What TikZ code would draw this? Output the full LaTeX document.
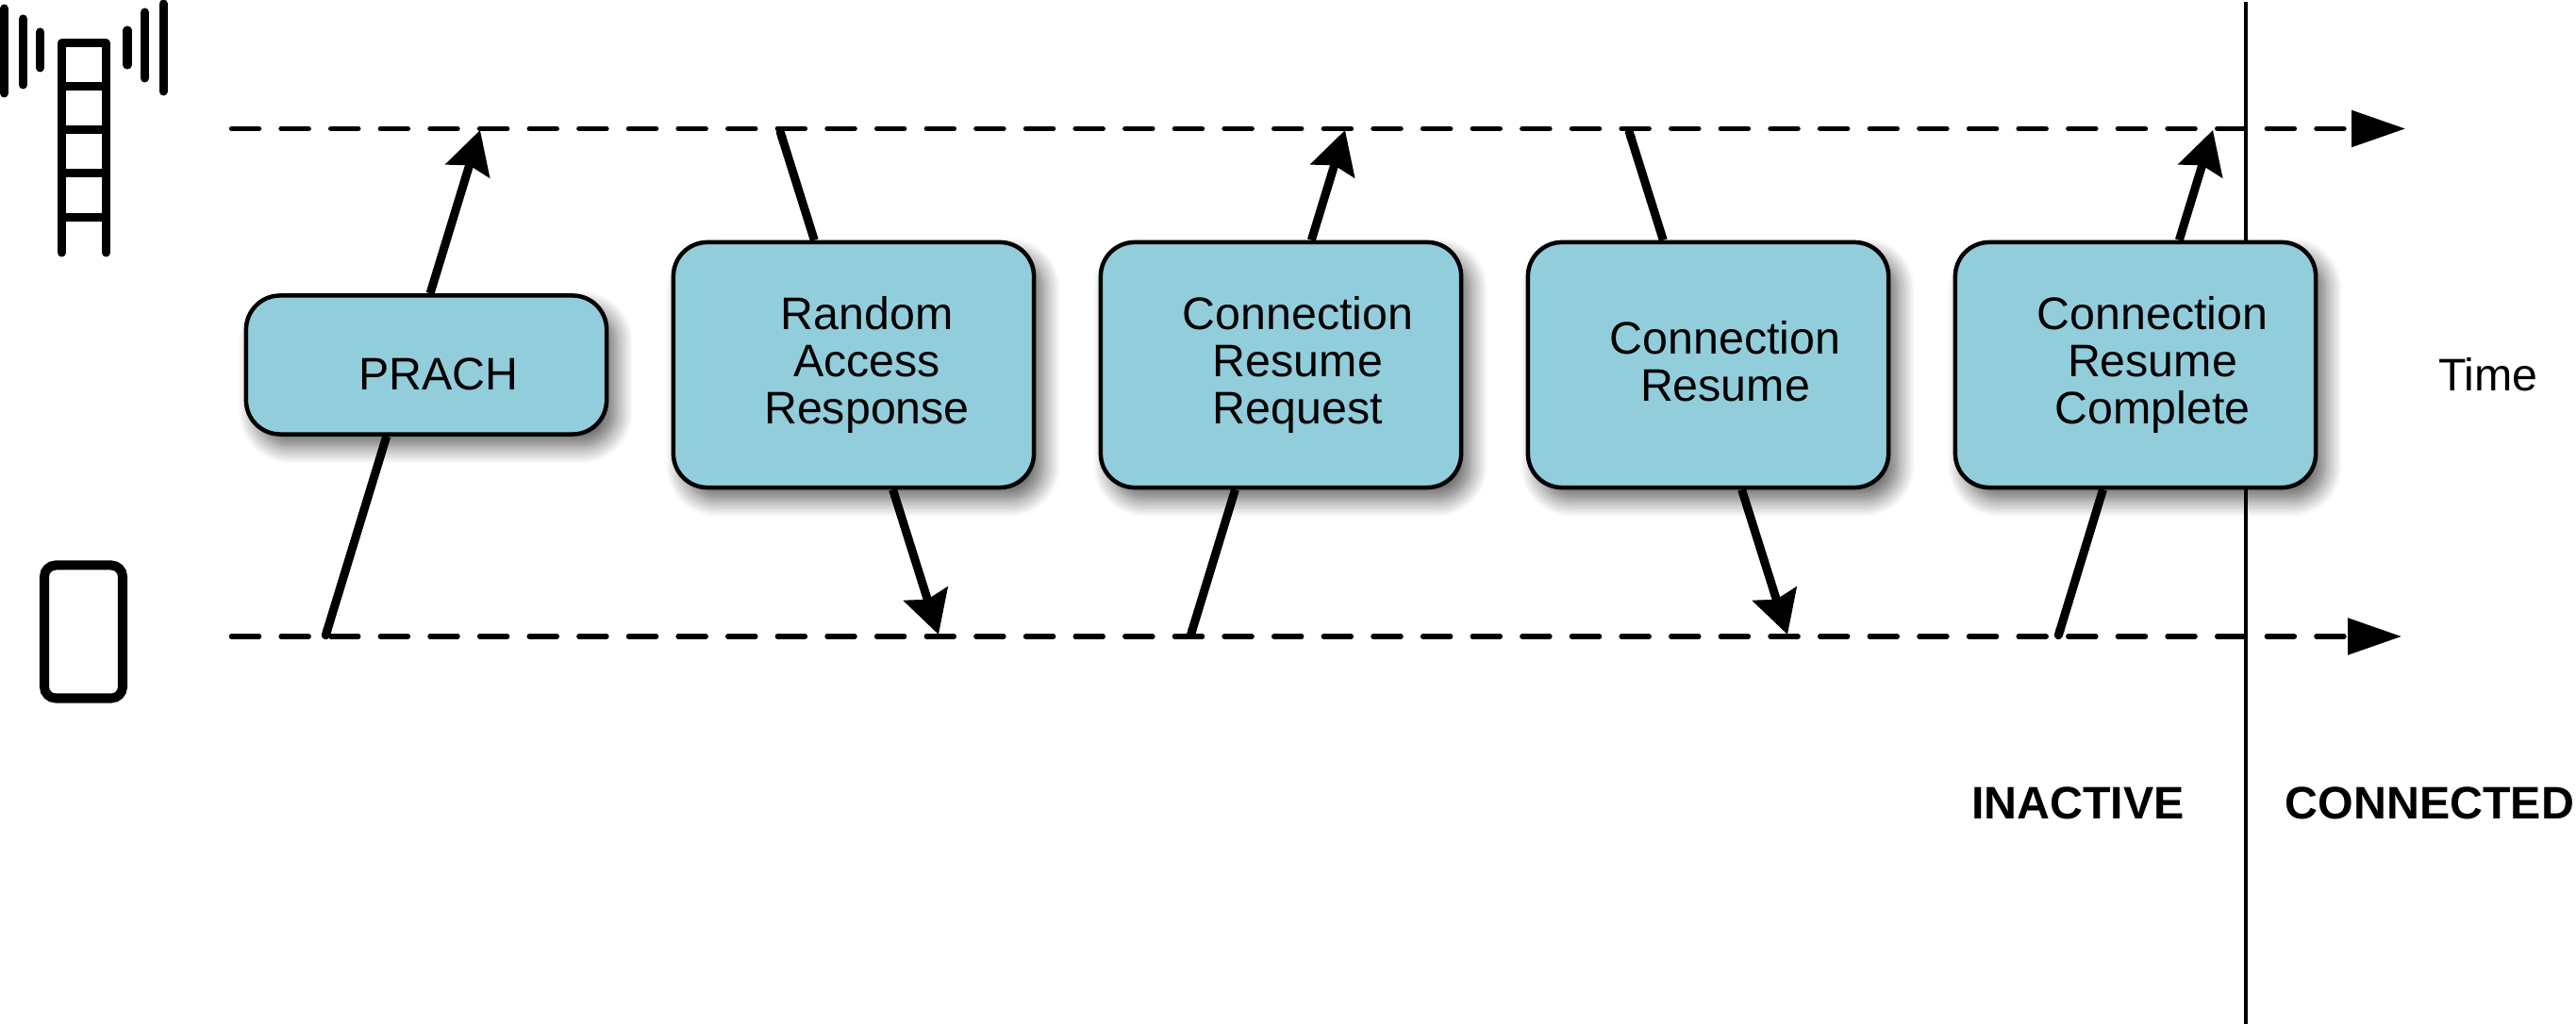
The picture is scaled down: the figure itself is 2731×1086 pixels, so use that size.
\documentclass[tikz,border=0pt]{standalone}
\usepackage{fontspec}
\setmainfont{Liberation Sans}
\usetikzlibrary{arrows.meta,shadows.blur}
\definecolor{msgblue}{HTML}{92CDDC}
\tikzset{
	msgbox/.style={draw=black,line width=0.045cm,fill=msgblue,rounded corners=0.36cm,minimum width=3.82cm,minimum height=2.6cm,inner sep=0pt,
		blur shadow={shadow xshift=0.1cm,shadow yshift=-0.13cm,shadow blur radius=0.18cm,shadow blur steps=14,shadow opacity=62}},
	msgtext/.style={align=center,inner sep=0pt,font=\fontsize{13.75pt}{14.1pt}\selectfont},
	statetext/.style={inner sep=0pt,font=\fontsize{13.75pt}{14.1pt}\selectfont\bfseries},
	timeline/.style={line width=0.055cm,line cap=round,dash pattern=on 0.29cm off 0.236cm,-{Triangle[length=0.57cm,width=0.38cm]}},
	msgline/.style={line width=0.09cm},
	msgtail/.style={msgline,{Round Cap[]}-},
	msghead/.style={msgline,-{Stealth[length=0.45cm,width=0.48cm,inset=0.06cm]}},
	icon/.style={line width=0.09cm,line cap=round}
}
\begin{document}
\begin{tikzpicture}[x=0.01cm,y=-0.01cm]
	\useasboundingbox (0,0) rectangle (2731,1086);
	% end points of the time lines and the messages
	\coordinate (gnbstart) at (245.5,136.5);
	\coordinate (gnbend) at (2550,136.5);
	\coordinate (uestart) at (245.5,675);
	\coordinate (ueend) at (2546,675);
	\coordinate (splittop) at (2381,2);
	\coordinate (splitbottom) at (2381,1086);
	\foreach \name/\X in {a/344,c/1261,e/2181} {
		\coordinate (ue\name) at (\X,678);
		\coordinate (gnb\name) at (\X+165,138);}
	\foreach \name/\X in {b/826,d/1726} {
		\coordinate (gnb\name) at (\X,136);
		\coordinate (ue\name) at (\X+169,673);}
	% message boxes
	\node[msgbox,minimum height=1.47cm] (prach) at (452,387) {};
	\foreach \name/\X in {rar/905,request/1358,resume/1811,complete/2264} {
		\node[msgbox] (\name) at (\X,387) {};}
	\node[msgtext] (prachtext) at (465,397) {PRACH};
	\node[msgtext] (rartext) at (919,387) {Random\\Access\\Response};
	\node[msgtext] (requesttext) at (1376,387) {Connection\\Resume\\Request};
	\node[msgtext] (resumetext) at (1829,383) {Connection\\Resume};
	\node[msgtext] (completetext) at (2282,387) {Connection\\Resume\\Complete};
	% time lines
	\draw[timeline] (gnbstart) -- (gnbend);
	\draw[timeline] (uestart) -- (ueend);
	\node[msgtext] (timetext) at (2638,397) {Time};
	% uplink messages
	\foreach \name/\boxname in {a/prach,c/request,e/complete} {
		\draw[msgtail] (ue\name) -- (intersection cs:first line={(ue\name)--(gnb\name)},second line={(\boxname.south west)--(\boxname.south east)});
		\draw[msghead] (intersection cs:first line={(ue\name)--(gnb\name)},second line={(\boxname.north west)--(\boxname.north east)}) -- (gnb\name);}
	% downlink messages
	\foreach \name/\boxname in {b/rar,d/resume} {
		\draw[msgtail] (gnb\name) -- (intersection cs:first line={(ue\name)--(gnb\name)},second line={(\boxname.north west)--(\boxname.north east)});
		\draw[msghead] (intersection cs:first line={(ue\name)--(gnb\name)},second line={(\boxname.south west)--(\boxname.south east)}) -- (ue\name);}
	% state change
	\draw[line width=0.045cm] (splittop) -- (splittop |- complete.north);
	\draw[line width=0.045cm] (splitbottom |- complete.south) -- (splitbottom);
	\node[statetext] (inactive) at (2203,852) {INACTIVE};
	\node[statetext] (connected) at (2576,852) {CONNECTED};
	% base station
	\draw[icon,line join=round] (65.5,268) -- (65.5,46) -- (112.5,46) -- (112.5,268);
	\foreach \Y in {92,138,184,231} {
		\draw[line width=0.09cm] (65.5,\Y) -- (112.5,\Y);}
	\draw[icon] (4.5,9) -- (4.5,99);
	\draw[icon] (24.5,20) -- (24.5,90);
	\draw[icon] (42.5,34) -- (42.5,72);
	\draw[icon] (135,32) -- (135,69);
	\draw[icon] (153.5,13) -- (153.5,83);
	\draw[icon] (173,4) -- (173,97);
	% handset
	\draw[line width=0.1cm,rounded corners=0.12cm] (47,599.5) rectangle (130,740.5);
\end{tikzpicture}
\end{document}
